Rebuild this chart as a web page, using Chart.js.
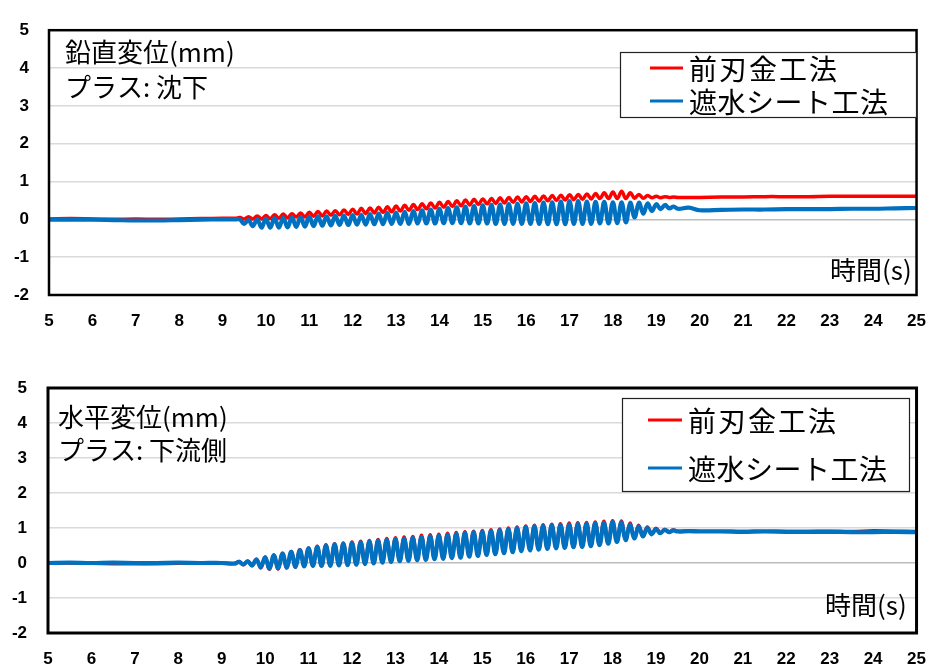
<!DOCTYPE html>
<html lang="ja">
<head>
<meta charset="utf-8">
<title>鉛直変位・水平変位</title>
<script src="https://cdn.jsdelivr.net/npm/chart.js@4.4.1/dist/chart.umd.min.js"></script>
<style>
  html, body { margin: 0; padding: 0; background: #fff; }
  #wrap   { position: relative; width: 942px; height: 666px; overflow: hidden; }
  #topBox { position: absolute; left: 0; top: 0;   width: 942px; height: 340px; }
  #botBox { position: absolute; left: 0; top: 340px; width: 942px; height: 326px; }
</style>
</head>
<body>
<div id="wrap">
  <div id="topBox"><canvas id="vertChart" width="942" height="340"></canvas></div>
  <div id="botBox"><canvas id="horzChart" width="942" height="326"></canvas></div>
</div>

<script>
// =================================================================
// DATA — time base (s) shared by both panels, values in mm
// =================================================================
const TIME = [
  5, 5.5, 6, 6.5, 7, 7.5, 8, 8.5, 9, 9.3,
  9.4, 9.5, 9.6, 9.7, 9.8, 9.9,
  10, 10.1, 10.2, 10.3, 10.4, 10.5, 10.6, 10.7, 10.8, 10.9,
  11, 11.1, 11.2, 11.3, 11.4, 11.5, 11.6, 11.7, 11.8, 11.9,
  12, 12.1, 12.2, 12.3, 12.4, 12.5, 12.6, 12.7, 12.8, 12.9,
  13, 13.1, 13.2, 13.3, 13.4, 13.5, 13.6, 13.7, 13.8, 13.9,
  14, 14.1, 14.2, 14.3, 14.4, 14.5, 14.6, 14.7, 14.8, 14.9,
  15, 15.1, 15.2, 15.3, 15.4, 15.5, 15.6, 15.7, 15.8, 15.9,
  16, 16.1, 16.2, 16.3, 16.4, 16.5, 16.6, 16.7, 16.8, 16.9,
  17, 17.1, 17.2, 17.3, 17.4, 17.5, 17.6, 17.7, 17.8, 17.9,
  18, 18.1, 18.2, 18.3, 18.4, 18.5, 18.6, 18.7, 18.8, 18.9,
  19, 19.1, 19.2, 19.3, 19.4, 19.5,
  19.75, 20, 20.5, 21, 21.5, 22, 22.5, 23, 23.5, 24, 24.5, 25,
];

const SERIES_NAMES = ["前刃金工法", "遮水シート工法"];

// 鉛直変位 — 前刃金工法
const VERT_RED = [
  0.01, 0.02, 0.01, 0.00, 0.01, 0.00, 0.01, 0.02, 0.03, 0.03,
  0.05, 0.01, 0.07, 0.01, 0.09, 0.01,
  0.10, 0.02, 0.12, 0.03, 0.14, 0.04, 0.15, 0.06, 0.17, 0.06,
  0.19, 0.08, 0.21, 0.09, 0.22, 0.11, 0.23, 0.12, 0.25, 0.13,
  0.27, 0.14, 0.29, 0.15, 0.30, 0.17, 0.32, 0.18, 0.33, 0.20,
  0.35, 0.22, 0.37, 0.24, 0.39, 0.26, 0.41, 0.28, 0.43, 0.30,
  0.45, 0.32, 0.47, 0.34, 0.49, 0.36, 0.51, 0.38, 0.53, 0.39,
  0.54, 0.41, 0.55, 0.42, 0.57, 0.43, 0.58, 0.45, 0.59, 0.46,
  0.60, 0.47, 0.61, 0.48, 0.62, 0.49, 0.63, 0.50, 0.64, 0.51,
  0.65, 0.52, 0.66, 0.53, 0.67, 0.54, 0.68, 0.55, 0.70, 0.55,
  0.72, 0.55, 0.74, 0.55, 0.70, 0.56, 0.66, 0.56, 0.63, 0.57,
  0.61, 0.57, 0.60, 0.58, 0.59, 0.58,
  0.58, 0.58, 0.59, 0.59, 0.60, 0.60, 0.60, 0.61, 0.61, 0.61, 0.61, 0.61,
];

// 鉛直変位 — 遮水シート工法
const VERT_BLUE = [
  -0.01, -0.01, -0.01, -0.02, -0.03, -0.03, -0.02, -0.01, 0.00, 0.00,
  0.00, -0.12, -0.02, -0.18, 0.00, -0.22,
  0.02, -0.22, 0.03, -0.22, 0.04, -0.21, 0.05, -0.20, 0.06, -0.19,
  0.07, -0.18, 0.08, -0.17, 0.08, -0.16, 0.09, -0.15, 0.10, -0.15,
  0.11, -0.14, 0.12, -0.14, 0.14, -0.13, 0.15, -0.13, 0.17, -0.12,
  0.18, -0.12, 0.20, -0.12, 0.22, -0.11, 0.24, -0.11, 0.26, -0.11,
  0.28, -0.10, 0.30, -0.10, 0.32, -0.10, 0.34, -0.11, 0.35, -0.11,
  0.37, -0.11, 0.38, -0.12, 0.39, -0.12, 0.40, -0.12, 0.41, -0.12,
  0.42, -0.12, 0.43, -0.12, 0.44, -0.13, 0.45, -0.13, 0.47, -0.13,
  0.48, -0.12, 0.48, -0.12, 0.47, -0.12, 0.46, -0.11, 0.46, -0.11,
  0.45, -0.10, 0.45, -0.08, 0.44, 0.05, 0.44, 0.15, 0.42, 0.22,
  0.40, 0.27, 0.38, 0.29, 0.34, 0.28,
  0.31, 0.24, 0.25, 0.26, 0.26, 0.27, 0.27, 0.27, 0.28, 0.28, 0.29, 0.30,
];

// 水平変位 — 前刃金工法
const HORZ_RED = [
  0.00, 0.00, -0.01, -0.02, -0.02, -0.02, -0.01, 0.00, 0.00, -0.01,
  0.04, -0.05, 0.06, -0.08, 0.11, -0.14,
  0.17, -0.18, 0.23, -0.17, 0.28, -0.14, 0.33, -0.12, 0.38, -0.10,
  0.43, -0.09, 0.48, -0.08, 0.52, -0.07, 0.55, -0.06, 0.57, -0.05,
  0.60, -0.04, 0.62, -0.02, 0.64, 0.00, 0.67, 0.02, 0.70, 0.04,
  0.72, 0.06, 0.74, 0.07, 0.76, 0.09, 0.79, 0.10, 0.81, 0.12,
  0.82, 0.13, 0.85, 0.15, 0.87, 0.16, 0.89, 0.19, 0.91, 0.21,
  0.93, 0.24, 0.95, 0.26, 0.97, 0.29, 1.00, 0.32, 1.03, 0.35,
  1.06, 0.37, 1.08, 0.39, 1.09, 0.41, 1.11, 0.43, 1.12, 0.44,
  1.14, 0.46, 1.15, 0.47, 1.16, 0.49, 1.17, 0.52, 1.19, 0.56,
  1.21, 0.61, 1.20, 0.66, 1.14, 0.71, 1.08, 0.77, 1.03, 0.83,
  0.99, 0.86, 0.96, 0.89, 0.94, 0.91,
  0.92, 0.91, 0.91, 0.90, 0.91, 0.90, 0.90, 0.91, 0.90, 0.92, 0.91, 0.90,
];

// 水平変位 — 遮水シート工法
const HORZ_BLUE = [
  0.00, 0.01, 0.00, 0.01, 0.00, 0.00, 0.01, 0.00, 0.00, -0.02,
  0.03, -0.04, 0.05, -0.07, 0.10, -0.12,
  0.16, -0.16, 0.22, -0.15, 0.27, -0.13, 0.32, -0.11, 0.37, -0.09,
  0.42, -0.08, 0.46, -0.08, 0.50, -0.08, 0.53, -0.07, 0.55, -0.06,
  0.57, -0.05, 0.59, -0.03, 0.61, -0.01, 0.64, 0.01, 0.66, 0.03,
  0.68, 0.05, 0.70, 0.06, 0.72, 0.08, 0.74, 0.09, 0.76, 0.11,
  0.78, 0.12, 0.81, 0.14, 0.83, 0.15, 0.86, 0.18, 0.88, 0.20,
  0.90, 0.23, 0.92, 0.25, 0.94, 0.28, 0.97, 0.31, 1.00, 0.34,
  1.03, 0.36, 1.05, 0.38, 1.06, 0.40, 1.08, 0.42, 1.09, 0.43,
  1.10, 0.45, 1.11, 0.46, 1.12, 0.48, 1.13, 0.51, 1.15, 0.55,
  1.17, 0.60, 1.16, 0.65, 1.10, 0.70, 1.04, 0.76, 1.00, 0.82,
  0.97, 0.85, 0.95, 0.88, 0.93, 0.90,
  0.91, 0.90, 0.90, 0.89, 0.90, 0.89, 0.89, 0.89, 0.88, 0.88, 0.89, 0.88,
];

const X_MIN = 5,  X_MAX = 25;
const Y_MIN = -2, Y_MAX = 5;

// =================================================================
// STYLE
// =================================================================
const JP_FONT   = "'Noto Sans CJK JP', 'Noto Sans', sans-serif";
const TICK_FONT = { family: "'Liberation Sans', Arial, sans-serif", size: 17, weight: "bold" };
const RED  = "#ff0000";
const BLUE = "#0070c0";

const toPoints = (ys) => TIME.map((t, i) => ({ x: t, y: ys[i] }));

// frame + free text + legend box, drawn on top of the plot
const panelDecor = {
  id: "panelDecor",
  afterDraw(chart, _args, o) {
    const { ctx, chartArea: a } = chart;
    ctx.save();

    // plot frame
    ctx.strokeStyle = "#000";
    ctx.lineWidth   = o.frameWidth;
    ctx.strokeRect(a.left, a.top, a.right - a.left, a.bottom - a.top);

    // notes (title lines, axis name)
    ctx.fillStyle    = "#000";
    ctx.textAlign    = "left";
    ctx.textBaseline = "middle";
    ctx.font = `${o.noteSize}px ${JP_FONT}`;
    o.notes.forEach((n) => ctx.fillText(n.text, n.x, n.y));

    // legend
    const L = o.legend;
    ctx.fillStyle = "#fff";
    ctx.fillRect(L.x, L.y, L.w, L.h);
    ctx.strokeStyle = "#222";
    ctx.lineWidth   = 1.2;
    ctx.strokeRect(L.x + 0.5, L.y + 0.5, L.w, L.h);

    ctx.font = `${L.size}px ${JP_FONT}`;
    chart.data.datasets.forEach((ds, i) => {
      const y = L.rows[i];
      ctx.strokeStyle = ds.borderColor;
      ctx.lineWidth   = 3;
      ctx.beginPath();
      ctx.moveTo(L.lineFrom, y);
      ctx.lineTo(L.lineTo, y);
      ctx.stroke();
      ctx.fillStyle = "#000";
      if ("letterSpacing" in ctx) ctx.letterSpacing = L.spacing[i] + "px";
      ctx.fillText(ds.label, L.textX, y + 1);
    });
    ctx.restore();
  },
};

const makeChart = (canvasId, redVals, blueVals, geo) => new Chart(
  document.getElementById(canvasId).getContext("2d"),
  {
    type: "line",
    data: {
      datasets: [
        {
          label: SERIES_NAMES[0],
          data: toPoints(redVals),
          borderColor: RED,
          borderWidth: 3.5,
          order: 1,
        },
        {
          label: SERIES_NAMES[1],
          data: toPoints(blueVals),
          borderColor: BLUE,
          borderWidth: 4.2,
          order: 0,
        },
      ],
    },
    options: {
      responsive: false,
      animation: false,
      devicePixelRatio: 1,
      elements: {
        point: { radius: 0 },
        line:  { tension: 0.38, borderJoinStyle: "round", borderCapStyle: "round" },
      },
      layout: { padding: { left: 0, right: geo.padRight, top: geo.padTop, bottom: 0 } },
      plugins: {
        legend:  { display: false },
        tooltip: { enabled: false },
        panelDecor: geo.decor,
      },
      scales: {
        x: {
          type: "linear",
          min: X_MIN,
          max: X_MAX,
          grid:   { display: false, drawTicks: false },
          border: { display: false },
          ticks:  { stepSize: 1, color: "#000", font: TICK_FONT, padding: geo.xPad, maxRotation: 0 },
          afterFit: (s) => { s.height = geo.xHeight; },
        },
        y: {
          min: Y_MIN,
          max: Y_MAX,
          grid: {
            drawTicks: false,
            lineWidth: 1.6,
            color: (c) => (c.tick && c.tick.value === 0 ? "#bcbcbc" : "#dadada"),
          },
          border: { display: false },
          ticks:  { stepSize: 1, color: "#000", font: TICK_FONT, padding: geo.yPad },
          afterFit: (s) => { s.width = geo.yWidth; },
        },
      },
    },
    plugins: [panelDecor],
  }
);

// =================================================================
// INIT
// =================================================================
makeChart("vertChart", VERT_RED, VERT_BLUE, {
  padTop: 24, padRight: 13, yWidth: 49, yPad: 20, xHeight: 45, xPad: 16,
  decor: {
    frameWidth: 2.5,
    noteSize: 26,
    notes: [
      { text: "鉛直変位(mm)", x: 65,  y: 52 },
      { text: "プラス: 沈下", x: 65,  y: 87 },
      { text: "時間(s)",      x: 830, y: 270 },
    ],
    legend: {
      x: 620, y: 52, w: 296, h: 65,
      rows: [68, 101], lineFrom: 650, lineTo: 683, textX: 689,
      size: 28, spacing: [2, 0.5],
    },
  },
});

makeChart("horzChart", HORZ_RED, HORZ_BLUE, {
  padTop: 48, padRight: 19, yWidth: 48, yPad: 21, xHeight: 33, xPad: 16,
  decor: {
    frameWidth: 3,
    noteSize: 26,
    notes: [
      { text: "水平変位(mm)",   x: 58,  y: 77 },
      { text: "プラス: 下流側", x: 58,  y: 110 },
      { text: "時間(s)",        x: 825, y: 265 },
    ],
    legend: {
      x: 622, y: 58, w: 287, h: 93,
      rows: [80, 128], lineFrom: 648, lineTo: 682, textX: 688,
      size: 28, spacing: [2, 0.5],
    },
  },
});
</script>
</body>
</html>
